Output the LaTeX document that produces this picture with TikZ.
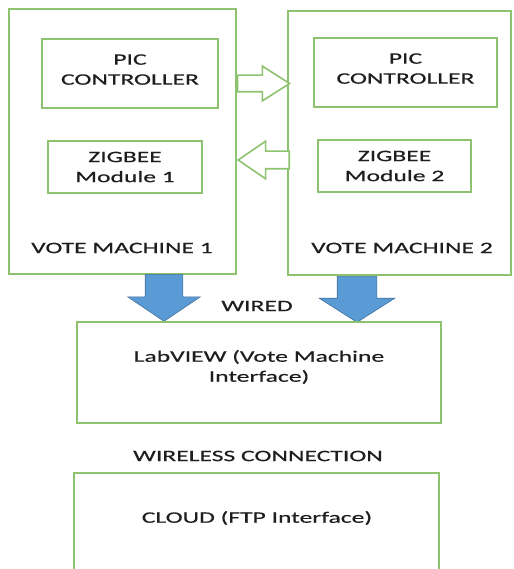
\documentclass[tikz,border=0pt]{standalone}
\usepackage{fontspec}
\setmainfont{Carlito}[FakeStretch=1.6, FakeBold=0.5]
\usetikzlibrary{shapes.arrows}
\definecolor{boxgreen}{RGB}{141,194,110}
\definecolor{wireblue}{RGB}{91,155,213}
\definecolor{wireedge}{RGB}{65,113,156}
\definecolor{txt}{RGB}{30,30,30}

\begin{document}
\begin{tikzpicture}[x=1pt,y=-1pt,
    font=\fontsize{16}{20}\selectfont, text=txt,
    blk/.style={draw=boxgreen, line width=1.6pt, align=center, inner sep=0pt},
    hollow/.style={single arrow, draw=boxgreen, fill=white, line width=1.6pt, inner xsep=0pt},
    wire/.style={single arrow, draw=wireedge, fill=wireblue, line width=0.6pt, inner ysep=0pt,
        shape border rotate=270, anchor=tail}]
    \path[use as bounding box, clip] (0,0) rectangle (513,569);
    % vote machines
    \node[blk, minimum width=227, minimum height=265] (vm1) at (122.5,141.5) {};
    \node[blk, minimum width=223, minimum height=264] (vm2) at (399.5,143) {};
    \node[blk, minimum width=176, minimum height=69, text depth=8pt] (pic1) at (130,73.5) {PIC\\CONTROLLER};
    \node[blk, minimum width=154, minimum height=52] (zig1) at (125,167) {ZIGBEE\\Module 1};
    \node[blk, minimum width=183, minimum height=69, text depth=8pt] (pic2) at (405.5,72.5) {PIC\\CONTROLLER};
    \node[blk, minimum width=153, minimum height=52] (zig2) at (394.5,166) {ZIGBEE\\Module 2};
    \node (lbl1) at (122,248) {VOTE MACHINE 1};
    \node (lbl2) at (402,248) {VOTE MACHINE 2};
    % links between the machines
    \node[hollow, anchor=tail, minimum height=52, inner ysep=7.5pt, single arrow head extend=9,
        single arrow tip angle=65] (toright) at ([yshift=-10pt]vm1.east |- pic1.east) {};
    \node[hollow, anchor=tip, minimum height=51, inner ysep=8pt, single arrow head extend=10,
        single arrow tip angle=69, shape border rotate=180] (toleft) at ([yshift=7pt]vm1.east |- zig1.east) {};
    % wired
    \node[wire, minimum height=47, inner xsep=18.5pt, single arrow head extend=17.5,
        single arrow tip angle=112] (w1) at (164,274) {};
    \node[wire, minimum height=46, inner xsep=19.5pt, single arrow head extend=18,
        single arrow tip angle=115] (w2) at (357,276) {};
    \node (wired) at (257,306) {WIRED};
    \node[blk, minimum width=364, minimum height=101] (lab) at (259,372.5) {};
    \node[align=center] (labtxt) at (259,367) {LabVIEW (Vote Machine\\Interface)};
    % wireless
    \node (wless) at (258,456) {WIRELESS CONNECTION};
    \node[blk, minimum width=365, minimum height=130] (cloud) at (256.5,538) {};
    \node (cloudtxt) at (257,518) {CLOUD (FTP Interface)};
\end{tikzpicture}
\end{document}
